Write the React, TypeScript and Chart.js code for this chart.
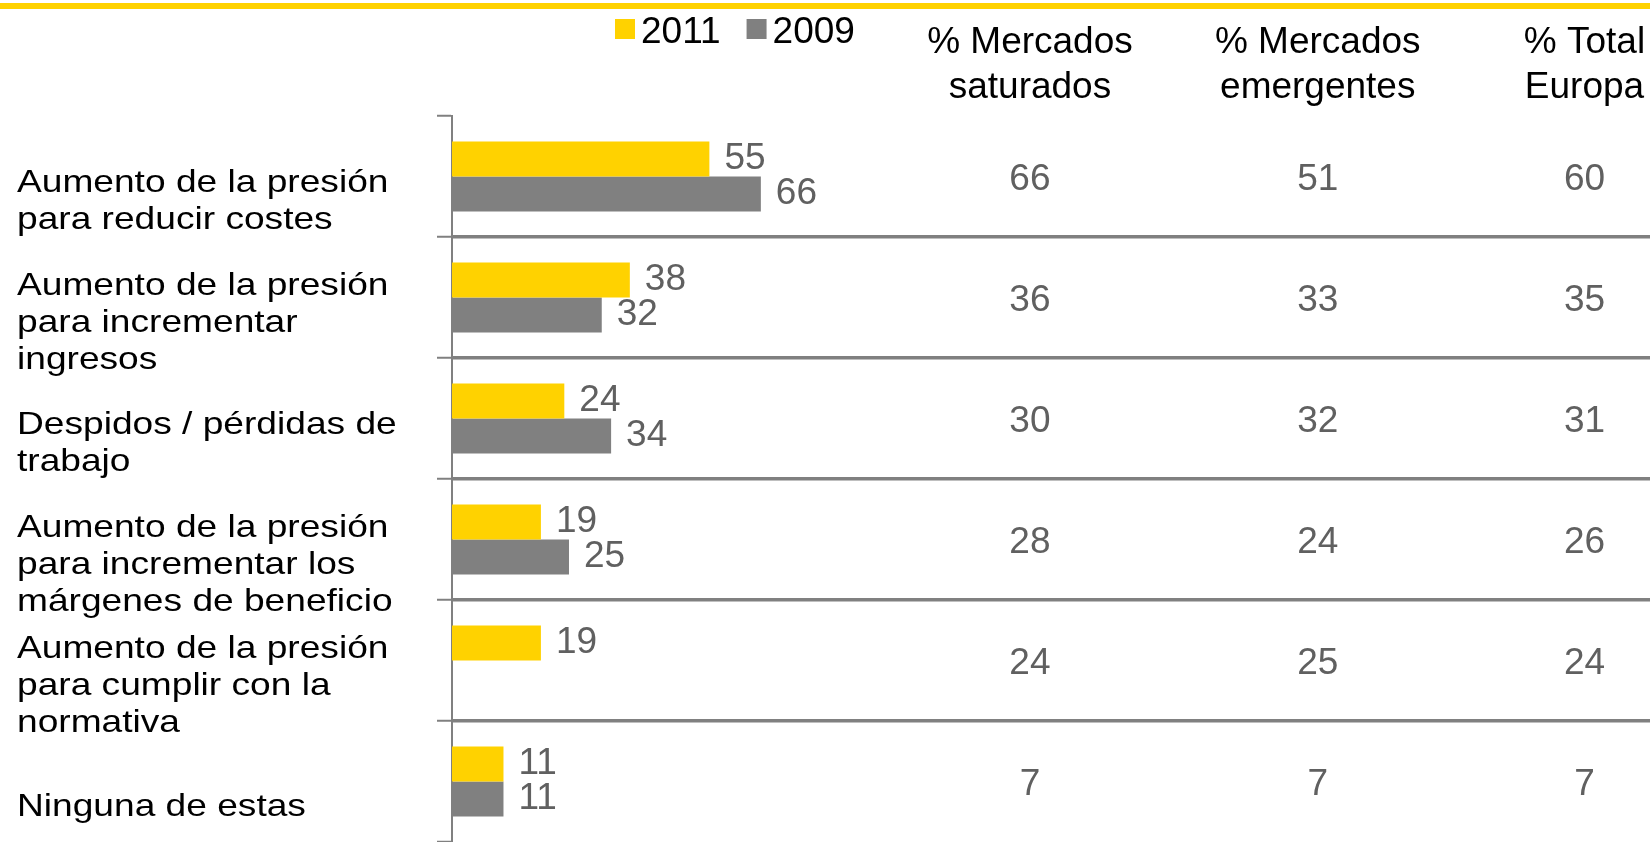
import React, { useEffect, useRef } from 'react';
import { Chart, registerables } from 'chart.js';

Chart.register(...registerables);

// ---------- data ----------
const categories: string[][] = [
  ['Aumento de la presión', 'para reducir costes'],
  ['Aumento de la presión', 'para incrementar', 'ingresos'],
  ['Despidos / pérdidas de', 'trabajo'],
  ['Aumento de la presión', 'para incrementar los', 'márgenes de beneficio'],
  ['Aumento de la presión', 'para cumplir con la', 'normativa'],
  ['Ninguna de estas'],
];
const seriesNames = ['2011', '2009'];
const values2011: (number | null)[] = [55, 38, 24, 19, 19, 11];
const values2009: (number | null)[] = [66, 32, 34, 25, null, 11];

const tableHeaders: string[][] = [
  ['% Mercados', 'saturados'],
  ['% Mercados', 'emergentes'],
  ['% Total', 'Europa'],
];
const mercadosSaturados = [66, 36, 30, 28, 24, 7];
const mercadosEmergentes = [51, 33, 32, 24, 25, 7];
const totalEuropa = [60, 35, 31, 26, 24, 7];
const tableColumns = [mercadosSaturados, mercadosEmergentes, totalEuropa];

// ---------- layout / style ----------
const W = 1650;
const H = 842;
const FONT = "'Liberation Sans', Arial, Helvetica, sans-serif";
const YELLOW = '#FFD200';
const GREY = '#808080';
const VALUE_GREY = '#606060';
const X_MAX = 256;
const TABLE_COLUMN_POS = [123.5, 185, 242]; // positions on the x scale
const LABEL_OFFSET = 23;
const LABEL_LINE = 37;

const overlayPlugin = {
  id: 'overlay',
  afterDatasetsDraw(chart: any) {
    const { ctx } = chart;
    const xs = chart.scales.x;
    const ys = chart.scales.y;
    ctx.save();

    // top yellow rule
    ctx.fillStyle = YELLOW;
    ctx.fillRect(0, 3, chart.width, 6);

    // legend
    ctx.font = `37px ${FONT}`;
    ctx.textAlign = 'left';
    ctx.textBaseline = 'alphabetic';
    const legendColors = [YELLOW, GREY];
    let lx = 615;
    seriesNames.forEach((name, i) => {
      ctx.fillStyle = legendColors[i];
      ctx.fillRect(lx, 19, 20, 20);
      ctx.fillStyle = '#000';
      ctx.fillText(name, lx + 26, 43);
      lx += 26 + ctx.measureText(name).width + 26;
    });

    // table headers
    ctx.textAlign = 'center';
    ctx.fillStyle = '#000';
    tableHeaders.forEach((lines, k) => {
      const cx = xs.getPixelForValue(TABLE_COLUMN_POS[k]);
      lines.forEach((line, j) => {
        ctx.fillText(line, cx, 53 + j * 45);
      });
    });

    // table cells
    ctx.fillStyle = VALUE_GREY;
    ctx.textBaseline = 'middle';
    tableColumns.forEach((col, k) => {
      const cx = xs.getPixelForValue(TABLE_COLUMN_POS[k]);
      col.forEach((v, i) => {
        ctx.fillText(String(v), cx, ys.getPixelForValue(i) + 3);
      });
    });

    // bar value labels
    ctx.textAlign = 'left';
    chart.data.datasets.forEach((ds: any, d: number) => {
      const meta = chart.getDatasetMeta(d);
      meta.data.forEach((bar: any, i: number) => {
        const v = ds.data[i];
        if (v === null || v === undefined) return;
        ctx.fillText(String(v), bar.x + 15, bar.y);
      });
    });

    // category labels (left aligned, slightly widened like the original)
    ctx.fillStyle = '#000';
    ctx.font = `32px ${FONT}`;
    ctx.textBaseline = 'alphabetic';
    const cap = 0.716 * 32;
    categories.forEach((lines, i) => {
      const cy = ys.getPixelForValue(i) + LABEL_OFFSET;
      const first = cy - ((lines.length - 1) * LABEL_LINE) / 2 + cap / 2;
      lines.forEach((line, j) => {
        ctx.save();
        ctx.translate(17, first + j * LABEL_LINE);
        ctx.scale(1.16, 1);
        ctx.fillText(line, 0, 0);
        ctx.restore();
      });
    });

    ctx.restore();
  },
};

export default function App() {
  const ref = useRef<HTMLCanvasElement>(null);

  useEffect(() => {
    const canvas = ref.current;
    if (!canvas) return;
    const chart = new Chart(canvas, {
      type: 'bar',
      data: {
        labels: categories,
        datasets: [
          {
            label: seriesNames[0],
            data: values2011,
            backgroundColor: YELLOW,
            borderWidth: 0,
            categoryPercentage: 0.578,
            barPercentage: 1,
          },
          {
            label: seriesNames[1],
            data: values2009,
            backgroundColor: GREY,
            borderWidth: 0,
            categoryPercentage: 0.578,
            barPercentage: 1,
          },
        ],
      },
      options: {
        indexAxis: 'y',
        responsive: false,
        maintainAspectRatio: false,
        animation: false,
        layout: { padding: { top: 116, left: 17, right: 0, bottom: 0 } },
        plugins: {
          legend: { display: false },
          tooltip: { enabled: false },
        },
        scales: {
          x: {
            display: false,
            min: 0,
            max: X_MAX,
            grid: { display: false },
          },
          y: {
            type: 'category',
            offset: true,
            grid: {
              offset: true,
              color: (c: any) =>
                c.index === undefined || c.index === 0 ? 'rgba(0,0,0,0)' : GREY,
              lineWidth: 3.5,
              drawTicks: true,
              tickLength: 15,
              tickColor: GREY,
              tickWidth: 2,
            },
            border: { display: true, color: GREY, width: 2 },
            ticks: { display: false },
            afterFit: (scale: any) => {
              scale.width = 435;
            },
          },
        },
      },
      plugins: [overlayPlugin],
    } as any);
    return () => chart.destroy();
  }, []);

  return (
    <div
      style={{
        position: 'fixed',
        left: 0,
        top: 0,
        width: W,
        height: H,
        background: '#fff',
      }}
    >
      <canvas
        ref={ref}
        width={W}
        height={H}
        style={{ display: 'block', width: W, height: H }}
      />
    </div>
  );
}
